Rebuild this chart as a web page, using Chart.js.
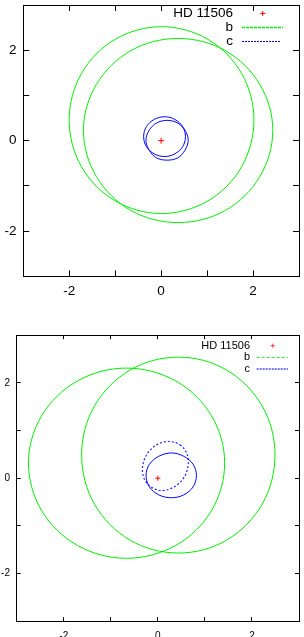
<!DOCTYPE html>
<html><head><meta charset="utf-8">
<script src="https://cdn.jsdelivr.net/npm/chart.js@4/dist/chart.umd.min.js"></script>
<style>
html,body{margin:0;padding:0;background:#fff;overflow:hidden;}
#wrap{position:relative;width:304px;height:637px;background:#fff;}
canvas{position:absolute;left:0;}
</style></head><body>
<div id="wrap">
<canvas id="c1" width="304" height="318" style="top:0px"></canvas>
<canvas id="c2" width="304" height="319" style="top:318px"></canvas>
</div>
<script>
// ---------- data (AU) ----------
const starName = 'HD 11506';
const planetLabels = ['b', 'c'];
const axisMin = -3, axisMax = 3;
const tickLabelValues = [-2, 0, 2];
const starPos = [[0, 0]];

// top panel
const topOrbitB1 = [[2.02,0.46],[1.75,1.49],[1.02,2.24],[0.01,2.52],[-1.00,2.24],[-1.73,1.49],[-2.00,0.46],[-1.73,-0.58],[-1.00,-1.33],[0.01,-1.61],[1.02,-1.33],[1.75,-0.58]];
const topOrbitB2 = [[2.43,0.23],[2.15,1.24],[1.40,1.99],[0.37,2.26],[-0.66,1.99],[-1.41,1.24],[-1.69,0.23],[-1.41,-0.79],[-0.66,-1.54],[0.37,-1.81],[1.40,-1.54],[2.15,-0.79]];
const topOrbitC1 = [[0.53,0.09],[0.47,0.31],[0.30,0.47],[0.08,0.53],[-0.15,0.47],[-0.32,0.31],[-0.38,0.09],[-0.32,-0.13],[-0.15,-0.29],[0.08,-0.35],[0.30,-0.29],[0.47,-0.13]];
const topOrbitC2 = [[0.59,0.01],[0.52,0.23],[0.36,0.39],[0.13,0.45],[-0.10,0.39],[-0.26,0.23],[-0.33,0.01],[-0.26,-0.21],[-0.10,-0.38],[0.13,-0.43],[0.36,-0.38],[0.52,-0.21]];

// bottom panel
const botOrbitB1 = [[1.42,0.32],[1.14,1.31],[0.38,2.04],[-0.67,2.31],[-1.71,2.04],[-2.47,1.31],[-2.75,0.32],[-2.47,-0.68],[-1.71,-1.41],[-0.67,-1.68],[0.38,-1.41],[1.14,-0.68]];
const botOrbitB2 = [[2.49,0.49],[2.22,1.51],[1.46,2.27],[0.44,2.54],[-0.59,2.27],[-1.35,1.51],[-1.62,0.49],[-1.35,-0.54],[-0.59,-1.30],[0.44,-1.57],[1.46,-1.30],[2.22,-0.54]];
const botOrbitC1 = [[0.82,0.06],[0.75,0.29],[0.55,0.46],[0.29,0.53],[0.02,0.46],[-0.18,0.29],[-0.25,0.06],[-0.18,-0.18],[0.02,-0.35],[0.29,-0.41],[0.55,-0.35],[0.75,-0.18]];
const botOrbitC2 = [[0.47,0.70],[0.62,0.51],[0.64,0.25],[0.54,-0.01],[0.33,-0.19],[0.08,-0.26],[-0.15,-0.18],[-0.30,0.01],[-0.32,0.27],[-0.22,0.52],[-0.01,0.71],[0.24,0.77]];

// ---------- helpers ----------
Chart.defaults.font.family = '"Liberation Sans", Arial, Helvetica, sans-serif';
Chart.defaults.color = '#000';
const toXY = pts => pts.map(([x, y]) => ({x, y}));

// close each orbit into a smooth loop
const closeOrbits = {
  id: 'closeOrbits',
  afterDatasetsUpdate(chart) {
    chart.data.datasets.forEach((ds, i) => {
      if (ds.orbit) {
        const line = chart.getDatasetMeta(i).dataset;
        if (line) {
          line._loop = true; line._fullLoop = true;
          delete line._segments; line._path = undefined; line._pointsUpdated = false;
        }
      }
    });
  }
};

// gnuplot-like key drawn inside the plot
const keyPlugin = {
  id: 'key',
  afterDatasetsDraw(chart, args, o) {
    const ctx = chart.ctx;
    const texts = [starName, ...planetLabels];
    ctx.save();
    ctx.font = o.fontSize + 'px "Liberation Sans", Arial, sans-serif';
    ctx.textAlign = 'right';
    ctx.textBaseline = 'middle';
    ctx.fillStyle = '#000';
    o.items.forEach((it, i) => {
      const y = o.y0 + i * o.dy;
      ctx.fillText(texts[i], o.textRight, y);
      ctx.strokeStyle = it.color;
      ctx.lineWidth = it.width;
      ctx.setLineDash(it.dash || []);
      ctx.beginPath();
      if (it.type === 'point') {
        ctx.moveTo(it.x - it.r, y); ctx.lineTo(it.x + it.r, y);
        ctx.moveTo(it.x, y - it.r); ctx.lineTo(it.x, y + it.r);
      } else {
        ctx.moveTo(it.x1, y); ctx.lineTo(it.x2, y);
      }
      ctx.stroke();
    });
    ctx.restore();
  }
};

function scaleSet(L) {
  const tickCb = v => (tickLabelValues.includes(v) ? String(v) : '');
  const fix = (s, prop, val) => {
    s[prop] = val;
    s.paddingLeft = 0; s.paddingRight = 0; s.paddingTop = 0; s.paddingBottom = 0;
  };
  const base = (pos, showLabels, pad, fit) => ({
    type: 'linear', position: pos, min: axisMin, max: axisMax,
    grid: { drawOnChartArea: false, drawTicks: true, tickLength: -L.tick, color: '#000', lineWidth: 1 },
    border: { display: true, color: '#000', width: 1 },
    ticks: { display: showLabels, stepSize: 1, autoSkip: false, maxRotation: 0, minRotation: 0,
             padding: pad, color: '#000', font: { size: L.tickFont }, callback: tickCb },
    afterFit: fit
  });
  return {
    x: base('bottom', true, L.xPad, s => fix(s, 'height', L.bottom)),
    x2: base('top', false, 0, s => fix(s, 'height', L.top)),
    y: base('left', true, L.yPad, s => fix(s, 'width', L.left)),
    y2: base('right', false, 0, s => fix(s, 'width', L.right))
  };
}

function orbitSet(pts, color, width, dash) {
  return { data: toXY(pts), orbit: true, borderColor: color, borderWidth: width,
           borderDash: dash || [], pointRadius: 0, tension: 0.35, fill: false };
}

function makeChart(id, orbits, starRadius, L, key) {
  const datasets = [
    { label: starName, data: toXY(starPos), showLine: false, pointStyle: 'cross',
      pointRadius: starRadius, pointBorderColor: '#ff0000', pointBorderWidth: 1, borderColor: '#ff0000' },
    ...orbits
  ];
  return new Chart(document.getElementById(id), {
    type: 'line',
    data: { datasets },
    options: {
      responsive: false, animation: false, events: [],
      layout: { padding: 0 },
      scales: scaleSet(L),
      plugins: { legend: { display: false }, tooltip: { enabled: false }, key }
    },
    plugins: [closeOrbits, keyPlugin]
  });
}

const GREEN = '#00ee00', BLUE = '#0000ff';

makeChart('c1', [
  Object.assign(orbitSet(topOrbitB1, GREEN, 1), { label: planetLabels[0] }),
  orbitSet(topOrbitB2, GREEN, 1),
  Object.assign(orbitSet(topOrbitC1, BLUE, 1), { label: planetLabels[1] }),
  orbitSet(topOrbitC2, BLUE, 1)
], 3,
  { left: 23.2, right: 4.4, top: 0, bottom: 41.6, tick: 6, tickFont: 13.5, yPad: 12.7, xPad: 13 },
  { fontSize: 13.5, textRight: 233, y0: 13.5, dy: 14,
    items: [
      { type: 'point', x: 262.7, r: 2.5, color: '#ff0000', width: 1 },
      { type: 'line', x1: 242, x2: 283, color: GREEN, width: 1.5, dash: [3, 1] },
      { type: 'line', x1: 242, x2: 281, color: BLUE, width: 1, dash: [2, 1] }
    ] }
);

makeChart('c2', [
  Object.assign(orbitSet(botOrbitB1, GREEN, 1), { label: planetLabels[0] }),
  orbitSet(botOrbitB2, GREEN, 1),
  Object.assign(orbitSet(botOrbitC1, BLUE, 1), { label: planetLabels[1] }),
  orbitSet(botOrbitC2, '#2020ff', 1.2, [2, 2])
], 2.5,
  { left: 16.7, right: 1.3, top: 17.2, bottom: 15.8, tick: 4, tickFont: 10, yPad: 10.7, xPad: 13.5 },
  { fontSize: 11, textRight: 250, y0: 27.7, dy: 11.7,
    items: [
      { type: 'point', x: 272.7, r: 2, color: '#ff3333', width: 1 },
      { type: 'line', x1: 256.7, x2: 288, color: '#33dd33', width: 1, dash: [3, 2] },
      { type: 'line', x1: 256.7, x2: 288, color: '#7777ff', width: 2, dash: [2, 1] }
    ] }
);
</script>
</body></html>
